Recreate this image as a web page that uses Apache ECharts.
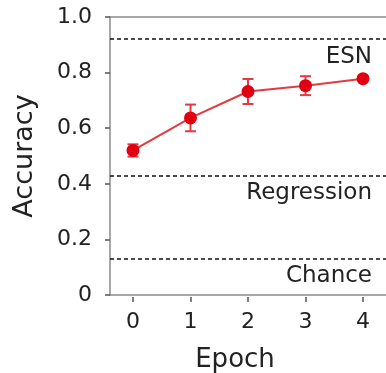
<!DOCTYPE html>
<html>
<head>
<meta charset="utf-8">
<script src="https://cdn.jsdelivr.net/npm/echarts@6/dist/echarts.min.js"></script>
<style>html,body{margin:0;padding:0;background:#fff}#c{width:386px;height:373px}</style>
</head>
<body>
<div id="c"></div>
<script>
const epochs = [0, 1, 2, 3, 4];
const accuracy = [0.52, 0.637, 0.732, 0.753, 0.778];
const errors = [0.022, 0.048, 0.045, 0.034, 0.0];
const yTicks = [0, 0.2, 0.4, 0.6, 0.8, 1.0];
const refNames = ['ESN', 'Regression', 'Chance'];
const refValues = [0.918, 0.434, 0.132];

const FONT = 'DejaVu Sans, sans-serif';
const chart = echarts.init(document.getElementById('c'), null, {renderer: 'canvas'});
const pts = epochs.map((e, i) => [e, accuracy[i]]);
const errData = epochs.map((e, i) => [e, accuracy[i] - errors[i], accuracy[i] + errors[i]]);

chart.setOption({
  animation: false,
  grid: {left: 110, right: 0, top: 17, bottom: 78, outerBoundsMode: 'none', containLabel: false},
  xAxis: [{
    type: 'value', min: -0.4, max: 4.4,
    axisLine: {show: true, onZero: false, lineStyle: {color: '#8a8a8a', width: 1.5}},
    axisTick: {show: false},
    axisLabel: {show: false},
    splitLine: {show: false}
  }, {
    type: 'value', min: -0.4, max: 4.4, position: 'bottom', offset: 2,
    axisLine: {show: false, onZero: false},
    axisTick: {show: true, customValues: epochs, length: 5, lineStyle: {color: '#555', width: 1.5}},
    axisLabel: {show: true, customValues: epochs, margin: 14, fontSize: 22, color: '#222', fontFamily: FONT},
    splitLine: {show: false},
    name: 'Epoch', nameLocation: 'middle', nameGap: 50,
    nameTextStyle: {fontSize: 26, color: '#222', fontFamily: FONT, padding: [0, 26, 0, 0]}
  }, {
    type: 'value', min: -0.4, max: 4.4, position: 'top',
    axisLine: {show: true, onZero: false, lineStyle: {color: '#8a8a8a', width: 1.5}},
    axisTick: {show: false}, axisLabel: {show: false}, splitLine: {show: false}
  }],
  yAxis: {
    type: 'value', min: 0, max: 1, interval: 0.2,
    axisLine: {show: true, onZero: false, lineStyle: {color: '#8a8a8a', width: 1.5}},
    axisTick: {show: true, inside: false, length: 5, lineStyle: {color: '#555', width: 1.5}},
    axisLabel: {margin: 18, fontSize: 22, color: '#222', fontFamily: FONT,
      formatter: v => (v === 0 ? '0' : v.toFixed(1))},
    splitLine: {show: false},
    name: 'Accuracy', nameLocation: 'middle', nameGap: 72, nameRotate: 90,
    nameTextStyle: {fontSize: 27, color: '#222', fontFamily: FONT}
  },
  series: [{
    type: 'line', data: pts, xAxisIndex: 0,
    symbol: 'circle', symbolSize: 13,
    itemStyle: {color: '#e00012'},
    lineStyle: {color: '#e33a3f', width: 2},
    z: 3,
    markLine: {
      silent: true, symbol: 'none',
      lineStyle: {type: [4, 3], color: '#111', width: 1.5},
      label: {position: 'insideEndBottom', fontSize: 23, color: '#222', fontFamily: FONT,
        distance: [14, 6], formatter: p => p.name},
      data: refValues.map((v, i) => ({name: refNames[i], yAxis: v}))
    }
  }, {
    type: 'custom', xAxisIndex: 0, data: errData, z: 2,
    renderItem: (params, api) => {
      const x = api.value(0);
      const lo = api.coord([x, api.value(1)]);
      const hi = api.coord([x, api.value(2)]);
      const w = 5.5;
      const st = {stroke: '#e33a3f', lineWidth: 2};
      return {type: 'group', children: [
        {type: 'line', shape: {x1: lo[0], y1: lo[1], x2: hi[0], y2: hi[1]}, style: st},
        {type: 'line', shape: {x1: lo[0] - w, y1: lo[1], x2: lo[0] + w, y2: lo[1]}, style: st},
        {type: 'line', shape: {x1: hi[0] - w, y1: hi[1], x2: hi[0] + w, y2: hi[1]}, style: st}
      ]};
    }
  }]
});
</script>
</body>
</html>
